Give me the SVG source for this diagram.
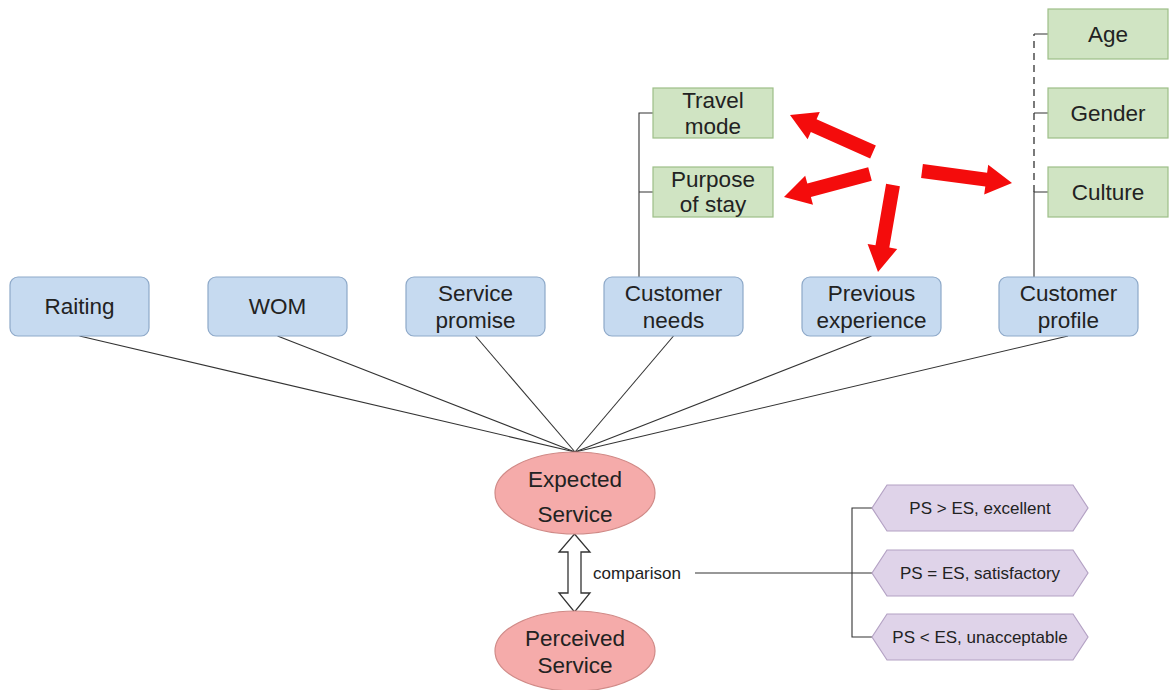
<svg xmlns="http://www.w3.org/2000/svg" width="1174" height="690" viewBox="0 0 1174 690">
<style>
text{font-family:"Liberation Sans",Arial,sans-serif;fill:#222;text-anchor:middle}
.t{font-size:22.5px}
.s{font-size:17px}
.blue{fill:#c6daf0;stroke:#8ea9c9;stroke-width:1.2}
.green{fill:#d0e4c3;stroke:#9dbf88;stroke-width:1.2}
.red{fill:#f5abaa;stroke:#d08a87;stroke-width:1.2}
.purple{fill:#dfd3e9;stroke:#b4a2c4;stroke-width:1.2}
.ln{fill:none;stroke:#333;stroke-width:1.1}
.dash{fill:none;stroke:#333;stroke-width:1.3;stroke-dasharray:7 5}
.ra{fill:#f40c0c;stroke:none}
</style>
<rect width="1174" height="690" fill="#ffffff"/>
<g id="connectors">
<line class="ln" x1="79.5" y1="336" x2="575" y2="452"/>
<line class="ln" x1="277.5" y1="336" x2="575" y2="452"/>
<line class="ln" x1="475.5" y1="336" x2="575" y2="452"/>
<line class="ln" x1="673.5" y1="336" x2="575" y2="452"/>
<line class="ln" x1="871.5" y1="336" x2="575" y2="452"/>
<line class="ln" x1="1068" y1="336" x2="575" y2="452"/>
<path class="ln" d="M639 277 V113 H653 M639 192 H653"/>
<path class="ln" d="M1034 277 V192 H1048 M1034 113 H1048 M1034 34 H1048"/>
<line class="dash" x1="1034" y1="192" x2="1034" y2="34"/>
<line class="ln" x1="695" y1="573" x2="872" y2="573"/>
<path class="ln" d="M872 508 H852 V637 H872"/>
<polygon points="574.5,534 590,552 581,552 581,593 590,593 574.5,612 559,593 568,593 568,552 559,552" fill="#ffffff" stroke="#333" stroke-width="1.3"/>
<polygon class="ra" points="875.85,145.6 816.55,119.2 819.8,111.9 790,115 807.6,139.3 810.85,132 870.15,158.4"/>
<polygon class="ra" points="868.2,167.2 807.3,183.5 805.2,175.8 784,197 813,204.8 810.9,197.1 871.8,180.8"/>
<polygon class="ra" points="886.1,183.8 875.5,245.2 867.6,243.9 878,272 897.2,249 889.3,247.6 899.9,186.2"/>
<polygon class="ra" points="921.1,177.9 985.3,186.5 984.2,194.5 1012,183 988.2,164.7 987.1,172.7 922.9,164.1"/>
<text class="s" x="637" y="579">comparison</text>
</g>
<g id="raiting"><rect class="blue" x="10" y="277" width="139" height="59" rx="8"/><text class="t" x="79.5" y="314">Raiting</text></g>
<g id="wom"><rect class="blue" x="208" y="277" width="139" height="59" rx="8"/><text class="t" x="277.5" y="314">WOM</text></g>
<g id="service-promise"><rect class="blue" x="406" y="277" width="139" height="59" rx="8"/><text class="t" x="475.5" y="301">Service</text><text class="t" x="475.5" y="328">promise</text></g>
<g id="customer-needs"><rect class="blue" x="604" y="277" width="139" height="59" rx="8"/><text class="t" x="673.5" y="301">Customer</text><text class="t" x="673.5" y="328">needs</text></g>
<g id="previous-experience"><rect class="blue" x="802" y="277" width="139" height="59" rx="8"/><text class="t" x="871.5" y="301">Previous</text><text class="t" x="871.5" y="328">experience</text></g>
<g id="customer-profile"><rect class="blue" x="999" y="277" width="139" height="59" rx="8"/><text class="t" x="1068.5" y="301">Customer</text><text class="t" x="1068.5" y="328">profile</text></g>
<g id="travel-mode"><rect class="green" x="653" y="88" width="120" height="50"/><text class="t" x="713" y="108">Travel</text><text class="t" x="713" y="134">mode</text></g>
<g id="purpose-of-stay"><rect class="green" x="653" y="167" width="120" height="50"/><text class="t" x="713" y="187">Purpose</text><text class="t" x="713" y="212">of stay</text></g>
<g id="age"><rect class="green" x="1048" y="9" width="120" height="50"/><text class="t" x="1108" y="42">Age</text></g>
<g id="gender"><rect class="green" x="1048" y="88" width="120" height="50"/><text class="t" x="1108" y="121">Gender</text></g>
<g id="culture"><rect class="green" x="1048" y="167" width="120" height="50"/><text class="t" x="1108" y="200">Culture</text></g>
<g id="expected-service"><ellipse class="red" cx="575" cy="493" rx="80" ry="41"/><text class="t" x="575" y="487">Expected</text><text class="t" x="575" y="522">Service</text></g>
<g id="perceived-service"><ellipse class="red" cx="575" cy="651" rx="80" ry="40"/><text class="t" x="575" y="646">Perceived</text><text class="t" x="575" y="673">Service</text></g>
<g id="ps-gt-es"><polygon class="purple" points="872,508 887,485 1073,485 1088,508 1073,531 887,531"/><text class="s" x="980" y="514">PS &gt; ES, excellent</text></g>
<g id="ps-eq-es"><polygon class="purple" points="872,573 887,550 1073,550 1088,573 1073,596 887,596"/><text class="s" x="980" y="579">PS = ES, satisfactory</text></g>
<g id="ps-lt-es"><polygon class="purple" points="872,637 887,614 1073,614 1088,637 1073,660 887,660"/><text class="s" x="980" y="643">PS &lt; ES, unacceptable</text></g>
</svg>
